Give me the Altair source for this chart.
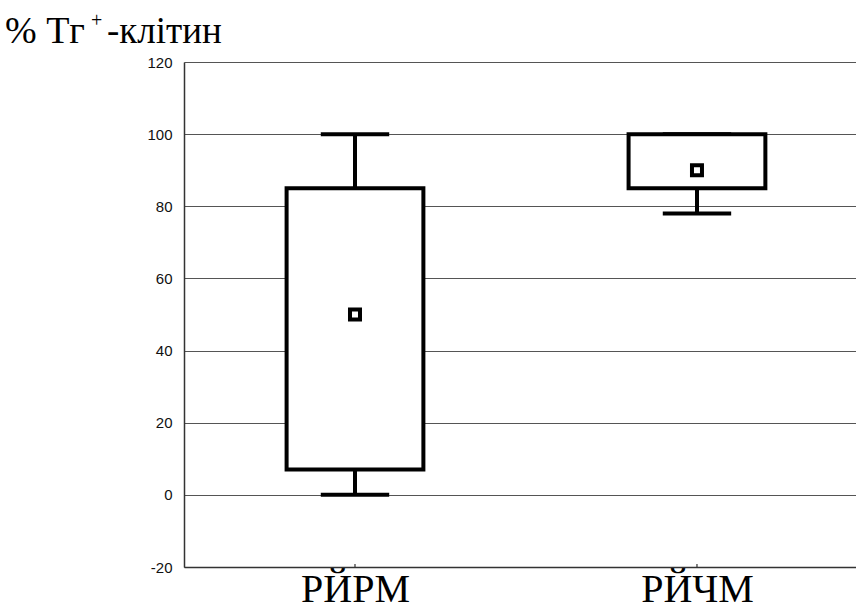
import json
import altair as alt
import pandas as pd

# ---- data ----
groups = ["РЙРМ", "РЙЧМ"]
positions = [0, 1]
whisker_low = [0, 78]
q1 = [7, 85]
q3 = [85, 100]
whisker_high = [100, 100]
means = [50, 90]
y_ticks = [-20, 0, 20, 40, 60, 80, 100, 120]
title_parts = ["% Тг", "+", "-клітин"]

df = pd.DataFrame({
    "group": groups,
    "pos": positions,
    "lo": whisker_low,
    "q1": q1,
    "q3": q3,
    "hi": whisker_high,
    "mean": means,
})

BOX_HALF = 0.2
CAP_HALF = 0.1
LW = 4
SERIF = "Liberation Serif"

x_scale = alt.Scale(domain=[-0.5, 1.465], nice=False, zero=False)
y_scale = alt.Scale(domain=[-20, 120], nice=False, zero=False)

label_expr = json.dumps(groups, ensure_ascii=False) + "[datum.value]"
x_axis = alt.Axis(
    values=positions, labelExpr=label_expr, title=None, grid=False, ticks=False,
    labelFont=SERIF, labelFontSize=40, labelColor="black",
    labelBaseline="alphabetic", labelPadding=34, domainColor="#333",
    domainWidth=1.5,
)
y_axis = alt.Axis(
    values=y_ticks, labelExpr="'' + datum.value", title=None, grid=True,
    gridColor="#555", gridWidth=1.2,
    ticks=False, labelFont="Liberation Sans", labelFontSize=15,
    labelColor="#111", labelPadding=12, domainColor="#333", domainWidth=1.5,
)

X = lambda f: alt.X(f, type="quantitative", scale=x_scale, axis=x_axis, title=None)
Y = lambda f: alt.Y(f, type="quantitative", scale=y_scale, axis=y_axis, title=None)

base = alt.Chart(df).transform_calculate(
    bl=f"datum.pos - {BOX_HALF}", br=f"datum.pos + {BOX_HALF}",
    cl=f"datum.pos - {CAP_HALF}", cr=f"datum.pos + {CAP_HALF}",
    ybot="-20", ytick="-19.2",
)

whisk_lo = base.mark_rule(color="black", strokeWidth=LW).encode(
    x=X("pos"), y=Y("lo"), y2="q1")
whisk_hi = base.mark_rule(color="black", strokeWidth=LW).encode(
    x=X("pos"), y=Y("q3"), y2="hi")
cap_lo = base.mark_rule(color="black", strokeWidth=LW).encode(
    x=X("cl"), x2="cr", y=Y("lo"))
cap_hi = base.mark_rule(color="black", strokeWidth=LW).encode(
    x=X("cl"), x2="cr", y=Y("hi"))
box = base.mark_rect(fill="white", stroke="black", strokeWidth=LW).encode(
    x=X("bl"), x2="br", y=Y("q1"), y2="q3")
mean_pt = base.mark_square(size=100, filled=False, fill="white", stroke="black",
                           strokeWidth=LW, opacity=1).encode(
    x=X("pos"), y=Y("mean"))
ticks = base.mark_rule(color="#333", strokeWidth=1.2).encode(
    x=X("pos"), y=Y("ybot"), y2="ytick")


def title_text(txt, x, y, size):
    return alt.Chart(pd.DataFrame({"t": [txt]})).mark_text(
        align="left", baseline="alphabetic", font=SERIF,
        fontSize=size, color="black").encode(
        x=alt.value(x), y=alt.value(y), text="t:N")


t1 = title_text(title_parts[0], -179, -19, 38)
t2 = title_text(title_parts[1], -93, -35, 20)
t3 = title_text(title_parts[2], -77, -19, 37)

chart = alt.layer(
    whisk_lo, whisk_hi, cap_lo, cap_hi, box, mean_pt, ticks, t1, t2, t3
).properties(
    width=672, height=505,
    padding={"left": 184, "top": 62, "right": 0, "bottom": 43},
    autosize=alt.AutoSizeParams(type="none"),
).configure_view(stroke=None).configure(background="white")

chart.save("out.html", embed_options={"renderer": "svg", "actions": False})
